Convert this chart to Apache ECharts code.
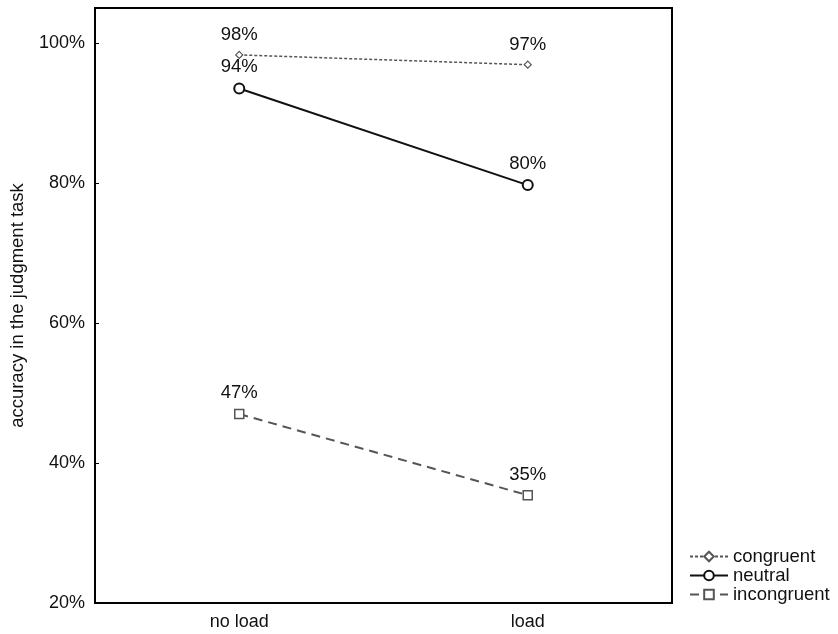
<!DOCTYPE html>
<html><head><meta charset="utf-8">
<script src="https://cdn.jsdelivr.net/npm/echarts@6/dist/echarts.min.js"></script>
<style>html,body{margin:0;padding:0;background:#fff}#c{width:838px;height:634px}</style>
</head><body><div id="c"></div>
<script>
var categories = ['no load', 'load'];
var congruent = [98.3, 96.9];
var neutral = [93.5, 79.7];
var incongruent = [47.0, 35.4];
var yTicks = [20, 40, 60, 80, 100];

var chart = echarts.init(document.getElementById('c'), null, {renderer: 'canvas'});
var font = 'Liberation Sans, Arial, sans-serif';
function lbl() {
  return {show: true, position: 'top', distance: 6, color: '#111', fontSize: 18.5, fontFamily: font,
    formatter: function (p) { return Math.round(p.value) + '%'; }};
}
chart.setOption({
  animation: false,
  grid: {left: 94, right: 166, top: 8, bottom: 31, show: true, borderColor: '#000', borderWidth: 2},
  legend: {
    orient: 'vertical', left: 684, top: 542, itemWidth: 38, itemHeight: 12, itemGap: 0,
    textStyle: {fontSize: 18.5, fontFamily: font, color: '#111'},
    data: ['congruent', 'neutral', 'incongruent']
  },
  xAxis: {
    type: 'category', data: categories, boundaryGap: true,
    axisLine: {lineStyle: {color: '#000', width: 2}},
    axisTick: {inside: true, length: 4, alignWithLabel: true, lineStyle: {color: '#000'}},
    axisLabel: {fontSize: 18, fontFamily: font, color: '#111', margin: 10},
    splitLine: {show: false}
  },
  yAxis: {
    type: 'value', min: 20, max: 105, interval: 20,
    name: 'accuracy in the judgment task', nameLocation: 'middle', nameGap: 68,
    nameTextStyle: {fontSize: 18.5, fontFamily: font, color: '#111'},
    axisLine: {show: true, lineStyle: {color: '#000', width: 2}},
    axisTick: {show: true, inside: true, length: 4, lineStyle: {color: '#000'}},
    axisLabel: {fontSize: 18, fontFamily: font, color: '#111', margin: 10,
      formatter: function (v) { return yTicks.indexOf(v) >= 0 ? v + '%' : ''; }},
    splitLine: {show: false}
  },
  series: [
    {name: 'congruent', type: 'line', data: congruent, symbol: 'diamond', symbolSize: 7,
      lineStyle: {color: '#555', width: 1.5, type: [3, 2]},
      itemStyle: {color: '#fff', borderColor: '#555', borderWidth: 1.2},
      label: lbl()},
    {name: 'neutral', type: 'line', data: neutral, symbol: 'circle', symbolSize: 10,
      lineStyle: {color: '#111', width: 2},
      itemStyle: {color: '#fff', borderColor: '#111', borderWidth: 2},
      label: lbl()},
    {name: 'incongruent', type: 'line', data: incongruent, symbol: 'rect', symbolSize: 9,
      lineStyle: {color: '#555', width: 2, type: [9, 6]},
      itemStyle: {color: '#fff', borderColor: '#555', borderWidth: 1.5},
      label: lbl()}
  ]
});
</script></body></html>
